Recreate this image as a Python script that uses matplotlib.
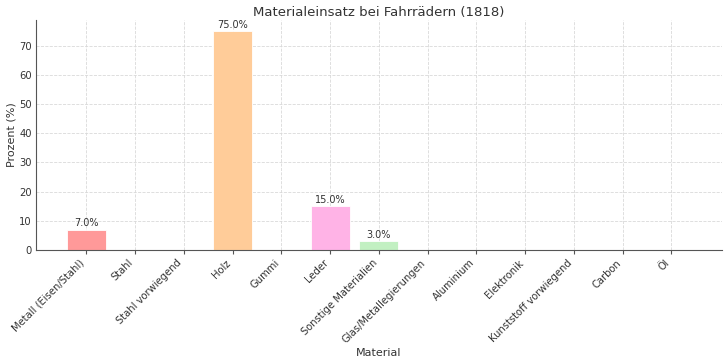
import matplotlib
matplotlib.use("Agg")
import matplotlib.pyplot as plt
from matplotlib.ticker import MultipleLocator

# =========================
# DATA
# =========================

materials = [
    "Metall (Eisen/Stahl)",
    "Stahl",
    "Stahl vorwiegend",
    "Holz",
    "Gummi",
    "Leder",
    "Sonstige Materialien",
    "Glas/Metallegierungen",
    "Aluminium",
    "Elektronik",
    "Kunststoff vorwiegend",
    "Carbon",
    "Öl",
]

percent = [7, 0, 0, 75, 0, 15, 3, 0, 0, 0, 0, 0, 0]

colors = [
    "#ff9999", "#66b3ff", "#99ff99", "#ffcc99", "#c2c2f0", "#ffb3e6",
    "#c2f0c2", "#ff6666", "#c4e17f", "#76d7c4", "#f7dc6f", "#d7bde2", "#aed6f1",
]

# =========================
# PLOT
# =========================

fig, ax = plt.subplots(figsize=(7.28, 3.64), dpi=100)

bars = ax.bar(materials, percent, color=colors, edgecolor="white", linewidth=0.6)

for bar, val in zip(bars, percent):
    if val > 0:
        ax.text(bar.get_x() + bar.get_width() / 2, val + 0.4, f"{val:.1f}%",
                ha="center", va="bottom", fontsize=7, color="#333333")

ax.set_title("Materialeinsatz bei Fahrrädern (1818)", fontsize=9.5, color="#333333", pad=3)
ax.set_xlabel("Material", fontsize=8, color="#333333", labelpad=2)
ax.set_ylabel("Prozent (%)", fontsize=8, color="#333333", labelpad=2)

ax.yaxis.set_major_locator(MultipleLocator(10))

ax.grid(True, linestyle="--", color="#d9d9d9", linewidth=0.6)
ax.set_axisbelow(True)

ax.spines["top"].set_visible(False)
ax.spines["right"].set_visible(False)
ax.spines["left"].set_color("#555555")
ax.spines["bottom"].set_color("#555555")

ax.tick_params(axis="x", pad=2.5, length=3, color="#555555")
ax.tick_params(axis="y", pad=2.7, length=0)
plt.xticks(rotation=45, ha="right", fontsize=7.2, color="#333333")
plt.yticks(fontsize=7.2, color="#333333")

plt.subplots_adjust(left=0.049, right=0.992, bottom=0.313, top=0.945)

plt.savefig("out.png", dpi=100)
